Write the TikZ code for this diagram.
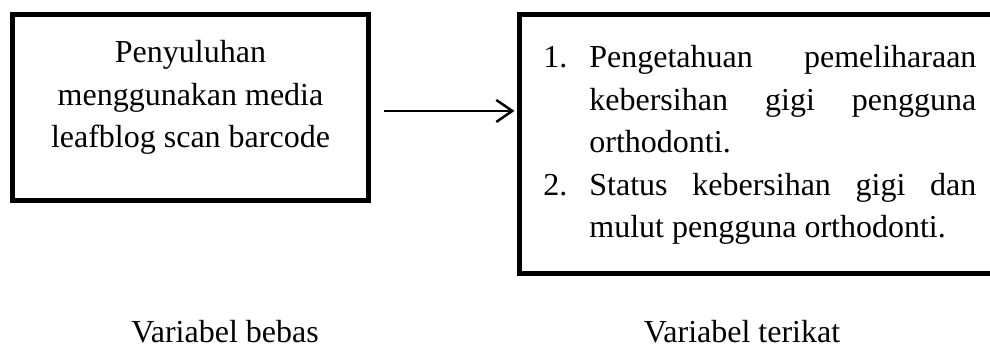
\documentclass[tikz,border=0pt]{standalone}
\usepackage{fontspec}
\setmainfont{Liberation Serif}
\usetikzlibrary{arrows.meta,positioning}
\tikzset{
  kotak/.style={draw, line width=2.5pt, inner sep=0pt},
  teks/.style={inner sep=0pt, font=\fontsize{16pt}{21.25pt}\selectfont},
  panah/.style={-{Straight Barb[length=8pt,width=11pt]}, line width=1.25pt}
}
\newcommand\butir[1]{\hangindent=23pt\hangafter=1\noindent\makebox[23pt][l]{#1}}
\hbadness=10000

\begin{document}
\begin{tikzpicture}[x=0.5pt, y=0.5pt]
\useasboundingbox (0,0) rectangle (990,347);
% kedua kotak variabel
\node[kotak, minimum width=178pt, minimum height=92.75pt] (bebas) at (190.5,239.25) {};
\node[kotak, minimum width=240.25pt, minimum height=129.5pt] (terikat) at (759.75,202.5) {};
% isi kotak
\node[teks, align=center, anchor=north] (isibebas) at (190.5,307)
  {Penyuluhan\\ menggunakan media\\ leafblog scan barcode};
\node[teks, text width=216.5pt, align=justify, anchor=north west] (isiterikat) at (543,302) {%
  \butir{1.}Pengetahuan pemeliharaan\linebreak kebersihan gigi pengguna\linebreak orthodonti.\par
  \butir{2.}Status kebersihan gigi dan\linebreak mulut pengguna orthodonti.\par};
% panah
\draw[panah, shorten <=6.25pt, shorten >=1.25pt] ([yshift=-1.6pt]bebas.east) -- ([yshift=-1.6pt]bebas.east -| terikat.west);
% keterangan
\node[teks, anchor=base] (lblbebas) at (225,4) {Variabel bebas};
\node[teks, anchor=base] (lblterikat) at (742,4) {Variabel terikat};
\end{tikzpicture}
\end{document}
